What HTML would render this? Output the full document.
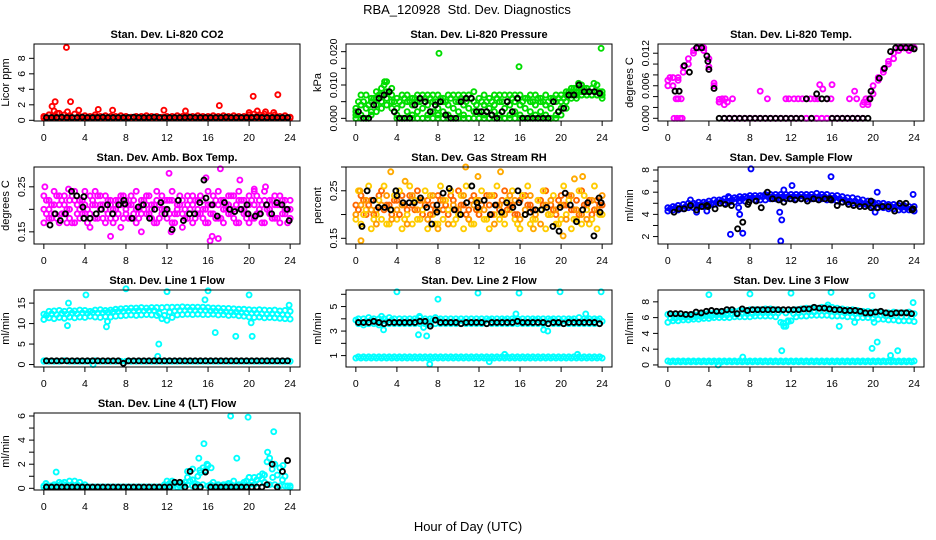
<!DOCTYPE html>
<html>
<head>
<meta charset="utf-8">
<style>
html,body{margin:0;padding:0;background:#fff;}
svg{display:block;}
text{font-family:"Liberation Sans",sans-serif;fill:#000;}
</style>
</head>
<body>
<svg id="chart" width="936" height="540" viewBox="0 0 936 540" xmlns="http://www.w3.org/2000/svg">
<text x="467" y="14" font-size="13" text-anchor="middle">RBA_120928&#160; Std. Dev. Diagnostics</text>
<text x="468" y="531" font-size="13" text-anchor="middle">Hour of Day (UTC)</text>
</svg>
<script>
// ---------- shared hour categories ----------
const H=[0,0.5,1,1.5,2,2.5,3,3.5,4,4.5,5,5.5,6,6.5,7,7.5,8,8.5,9,9.5,10,10.5,11,11.5,12,12.5,13,13.5,14,14.5,15,15.5,16,16.5,17,17.5,18,18.5,19,19.5,20,20.5,21,21.5,22,22.5,23,23.5,24];
const H2=[0.25,0.75,1.25,1.75,2.25,2.75,3.25,3.75,4.25,4.75,5.25,5.75,6.25,6.75,7.25,7.75,8.25,8.75,9.25,9.75,10.25,10.75,11.25,11.75,12.25,12.75,13.25,13.75,14.25,14.75,15.25,15.75,16.25,16.75,17.25,17.75,18.25,18.75,19.25,19.75,20.25,20.75,21.25,21.75,22.25,22.75,23.25,23.75];
const xTicks=[0,4,8,12,16,20,24];

// ---------- Panel 1: CO2 ----------
const co2Red1=[0.5,0.7,0.6,0.9,0.7,0.6,0.8,0.5,0.6,0.5,0.7,0.5,0.6,0.5,0.5,0.6,0.5,0.4,0.5,0.5,0.6,0.5,0.5,0.4,0.5,0.5,0.6,0.5,0.5,0.5,0.6,0.5,0.5,0.6,0.5,0.6,0.5,0.6,0.5,0.5,0.7,0.8,0.7,0.8,0.6,0.7,0.5,0.6,0.4];
const co2Red2=[0.3,0.3,0.4,0.3,0.3,0.4,0.3,0.3,0.3,0.3,0.4,0.3,0.3,0.3,0.3,0.3,0.3,0.3,0.3,0.3,0.3,0.3,0.3,0.3,0.3,0.3,0.3,0.3,0.3,0.3,0.3,0.3,0.3,0.3,0.3,0.3,0.3,0.3,0.3,0.3,0.4,0.4,0.4,0.4,0.3,0.4,0.3,0.3,0.3];
const co2OutX=[2.2,1.1,2.6,0.8,1.0,3.4,5.3,6.7,11.7,13.8,17.1,20.4,22.8,20.0,20.8,21.6,22.4,1.3,0.5,2.3];
const co2OutY=[9.4,2.4,2.4,1.8,1.2,1.3,1.4,1.3,1.3,1.2,1.9,3.1,3.3,1.0,1.2,1.1,1.0,0.9,0.7,1.1];
const co2Black=[0.35,0.35,0.35,0.4,0.35,0.35,0.35,0.4,0.35,0.35,0.35,0.4,0.35,0.35,0.35,0.35,0.35,0.4,0.35,0.35,0.35,0.4,0.35,0.35,0.35,0.35,0.35,0.35,0.4,0.35,0.35,0.35,0.35,0.35,0.35,0.4,0.35,0.35,0.35,0.35,0.35,0.4,0.35,0.35,0.35,0.35,0.35,0.35];

// ---------- Panel 2: Pressure ----------
const presG1=[0.003,0.007,0.007,0.006,0.008,0.009,0.011,0.009,0.006,0.007,0.007,0.006,0.007,0.007,0.007,0.007,0.007,0.006,0.007,0.007,0.007,0.007,0.007,0.008,0.006,0.007,0.006,0.007,0.007,0.007,0.007,0.007,0.007,0.006,0.007,0.007,0.006,0.007,0.006,0.007,0.007,0.008,0.009,0.009,0.010,0.009,0.009,0.010,0.008];
const presG2=[0.002,0.004,0.003,0.005,0.006,0.007,0.008,0.007,0.003,0.004,0.005,0.004,0.005,0.003,0.004,0.005,0.003,0.005,0.004,0.003,0.005,0.004,0.003,0.005,0.002,0.004,0.003,0.004,0.005,0.003,0.004,0.005,0.004,0.003,0.005,0.004,0.005,0.004,0.003,0.005,0.005,0.007,0.008,0.008,0.008,0.008,0.007,0.008,0.007];
const presG3=[0.001,0.001,0.000,0.002,0.004,0.005,0.006,0.005,0.001,0.000,0.002,0.001,0.002,0.000,0.001,0.002,0.001,0.002,0.001,0.000,0.002,0.001,0.000,0.002,0.000,0.001,0.000,0.002,0.001,0.000,0.001,0.002,0.001,0.000,0.002,0.001,0.002,0.001,0.000,0.001,0.003,0.005,0.007,0.007,0.007,0.007,0.007,0.007,0.007];
const presG4=[0,0,0,0.001,0.002,0.003,0.004,0.003,0,0,0,0,0,0,0,0,0,0,0,0,0,0,0,0,0,0,0,0,0,0,0,0,0,0,0,0,0,0,0,0,0.001,0.003,0.006,0.006,0.007,0.007,0.007,0.007,0.006];
const presG5=[0.005,0.005,0.004,0.006,0.007,0.010,0.008,0.005,0.005,0.006,0.005,0.006,0.005,0.006,0.006,0.005,0.006,0.005,0.006,0.005,0.006,0.005,0.006,0.004,0.005,0.005,0.005,0.006,0.005,0.005,0.006,0.006,0.005,0.006,0.005,0.006,0.005,0.005,0.006,0.006,0.006,0.008,0.009,0.009,0.009,0.008,0.008,0.008];
const presOutX=[8.1,15.9,23.9,21.7,23.2,2.8];
const presOutY=[0.0195,0.0155,0.021,0.0105,0.0105,0.011];
const presBlack=[0.002,0,0,0.004,0.006,0.007,0.008,0.002,0,0,0,0.004,0.006,0.005,0.002,0.004,0.005,0.001,0,0,0.005,0.006,0.006,0.002,0.002,0.002,0.001,0,0.002,0.005,0.002,0.006,0,0,0,0,0,0,0.005,0.002,0.003,0.007,0.007,0.010,0.008,0.008,0.008,0.0075];

// ---------- Panel 3: Li-820 Temp ----------
const tempM1=[0.007,0.0075,0.007,0.0085,0.010,0.012,0.013,0.013,0.0095,0.006,0.0035,0,0,0,0,0,0,0,0,0,0,0,0,0,0,0,0,0,0,0,0,0,0,0,0,0,0,0,0,0.003,0.006,0.0075,0.009,0.0105,0.012,0.013,0.013,0.013,0.013];
const tempM2=[0.006,0.006,0.0075,0.0095,0.011,0.0125,0.013,0.0125,0.011,0.0065,0.003,0.0025,0,0,0,0,0,0,0,0,0,0,0,0,0,0,0,0,0,0,0,0,0,0,0,0,0,0,0.0025,0.0025,0.0045,0.007,0.0085,0.010,0.011,0.0125,0.013,0.0125,0.013];
const tempOutX=[0.2,0.6,0.9,1.2,1.4,0.8,1.0,1.3,5.0,5.3,5.6,5.8,6.3,9.0,9.7,11.5,11.8,12.3,12.7,13.1,13.5,13.9,14.3,14.6,14.8,15.1,15.5,15.9,16.0,17.7,18.2,18.4,19.1,19.3,19.6];
const tempOutY=[0.0075,0,0,0,0,0.0036,0.0036,0.0036,0.003,0.0036,0.0036,0.003,0.0036,0.005,0.0036,0.0036,0.0036,0.0036,0.0036,0.0036,0.0036,0.0036,0.0036,0.0036,0.0062,0.0054,0.0036,0.0036,0.0062,0.0036,0.005,0.0036,0.003,0.0036,0.0036];
const tempBlackX=[0.7,1.1,1.6,2.1,2.8,3.3,3.8,3.9,4.0,4.5,5.0,5.5,6.0,6.5,7.0,7.5,8.0,8.5,9.0,9.5,10.0,10.5,11.0,11.5,12.0,12.5,13.0,13.5,14.0,14.5,15.0,15.5,16.0,16.5,17.0,17.5,18.0,18.5,19.0,19.5,19.7,19.8,20.6,21.1,21.7,22.2,22.7,23.2,23.7,24.0];
const tempBlackY=[0.005,0.005,0.0097,0.0085,0.013,0.013,0.0115,0.0105,0.009,0.0055,0,0,0,0,0,0,0,0,0,0,0,0,0,0,0,0,0,0.0036,0,0.0045,0.0036,0.0036,0,0,0,0,0,0,0,0,0.0036,0.005,0.0074,0.0092,0.0123,0.013,0.013,0.013,0.013,0.0128];

// ---------- Panel 4: Amb Box Temp ----------
const amb1=[0.20,0.22,0.19,0.23,0.21,0.18,0.22,0.20,0.24,0.19,0.21,0.23,0.20,0.18,0.22,0.21,0.19,0.23,0.20,0.22,0.19,0.21,0.24,0.20,0.18,0.22,0.21,0.19,0.23,0.21,0.20,0.22,0.24,0.19,0.21,0.20,0.23,0.18,0.22,0.20,0.21,0.24,0.19,0.22,0.20,0.23,0.21,0.19,0.22];
const amb2=[0.17,0.18,0.21,0.17,0.19,0.22,0.17,0.18,0.19,0.16,0.18,0.20,0.17,0.21,0.18,0.16,0.20,0.18,0.17,0.19,0.21,0.18,0.17,0.19,0.20,0.17,0.19,0.16,0.18,0.17,0.19,0.18,0.17,0.21,0.18,0.17,0.19,0.20,0.17,0.19,0.17,0.18,0.20,0.17,0.19,0.18,0.17,0.20,0.18];
const amb3=[0.23,0.20,0.24,0.21,0.23,0.20,0.24,0.22,0.21,0.23,0.24,0.21,0.23,0.22,0.20,0.23,0.22,0.21,0.24,0.21,0.23,0.20,0.22,0.23,0.22,0.24,0.20,0.22,0.21,0.23,0.22,0.20,0.21,0.23,0.24,0.22,0.21,0.23,0.24,0.22,0.23,0.21,0.22,0.24,0.22,0.21,0.23,0.22,0.20];
const amb4=[0.19,0.21,0.18,0.22,0.20,0.17,0.21,0.19,0.20,0.22,0.18,0.21,0.19,0.20,0.22,0.18,0.21,0.19,0.20,0.22,0.19,0.21,0.18,0.20,0.22,0.19,0.21,0.18,0.20,0.22,0.19,0.20,0.21,0.18,0.22,0.20,0.19,0.21,0.20,0.18,0.22,0.19,0.21,0.20,0.18,0.21,0.19,0.20];
const amb5=[0.22,0.18,0.23,0.19,0.17,0.23,0.19,0.22,0.17,0.21,0.23,0.18,0.22,0.17,0.19,0.23,0.18,0.22,0.18,0.20,0.23,0.17,0.21,0.22,0.19,0.17,0.23,0.20,0.22,0.18,0.23,0.17,0.19,0.22,0.18,0.21,0.23,0.17,0.22,0.19,0.18,0.23,0.17,0.21,0.22,0.18,0.22,0.17];
const ambOutX=[0.1,12.2,15.8,17.2,19.1,16.2,16.4,17.0,6.5,12.4,9.5,2.4,20.5,21.6];
const ambOutY=[0.25,0.28,0.27,0.29,0.265,0.13,0.14,0.135,0.14,0.15,0.15,0.245,0.245,0.25];
const ambBlackX=[0.6,1.1,1.6,2.1,2.7,3.2,3.8,3.9,3.9,4.5,5.1,5.6,6.2,6.7,7.3,7.8,7.9,8.6,9.2,9.7,10.3,10.8,11.4,11.8,12.0,12.5,13.1,13.6,14.2,14.7,15.2,15.8,15.6,16.4,16.9,17.6,18.1,18.6,19.2,19.8,19.9,20.6,21.1,21.7,22.2,22.7,23.2,23.7,23.9];
const ambBlackY=[0.165,0.19,0.175,0.19,0.24,0.23,0.205,0.228,0.18,0.18,0.19,0.20,0.21,0.19,0.21,0.22,0.212,0.18,0.205,0.21,0.18,0.20,0.215,0.19,0.20,0.155,0.22,0.175,0.19,0.19,0.215,0.225,0.265,0.21,0.185,0.215,0.20,0.195,0.20,0.21,0.19,0.185,0.19,0.21,0.19,0.215,0.21,0.20,0.175];

// ---------- Panel 5: Gas Stream RH ----------
const rh1=[0.22,0.24,0.20,0.23,0.21,0.25,0.22,0.20,0.23,0.24,0.21,0.22,0.25,0.20,0.23,0.22,0.24,0.21,0.20,0.23,0.25,0.22,0.21,0.24,0.20,0.23,0.22,0.24,0.21,0.25,0.22,0.20,0.23,0.24,0.22,0.21,0.23,0.25,0.22,0.20,0.24,0.22,0.21,0.23,0.25,0.22,0.20,0.23,0.22];
const rh2=[0.19,0.18,0.21,0.17,0.20,0.19,0.18,0.21,0.19,0.17,0.20,0.18,0.19,0.21,0.17,0.20,0.18,0.19,0.21,0.18,0.20,0.17,0.19,0.18,0.21,0.19,0.17,0.20,0.19,0.18,0.21,0.19,0.17,0.20,0.18,0.19,0.21,0.17,0.20,0.18,0.19,0.20,0.17,0.19,0.18,0.21,0.19,0.17,0.20];
const rh3=[0.21,0.23,0.22,0.20,0.24,0.21,0.22,0.23,0.20,0.22,0.24,0.21,0.23,0.22,0.20,0.21,0.23,0.22,0.24,0.21,0.22,0.20,0.23,0.21,0.22,0.24,0.20,0.22,0.23,0.21,0.22,0.20,0.24,0.22,0.21,0.23,0.22,0.20,0.21,0.23,0.22,0.24,0.21,0.20,0.22,0.23,0.21,0.22];
const rh4=[0.25,0.20,0.26,0.19,0.23,0.26,0.18,0.24,0.25,0.19,0.26,0.23,0.19,0.25,0.24,0.18,0.26,0.23,0.25,0.19,0.24,0.26,0.18,0.23,0.25,0.19,0.24,0.26,0.20,0.23,0.25,0.18,0.24,0.26,0.19,0.23,0.25,0.20,0.24,0.18,0.26,0.23,0.19,0.25,0.24,0.18,0.26,0.20];
const rh5=[0.20,0.22,0.23,0.21,0.18,0.22,0.24,0.19,0.21,0.22,0.18,0.24,0.21,0.23,0.19,0.24,0.21,0.23,0.18,0.22,0.21,0.24,0.19,0.22,0.23,0.21,0.24,0.18,0.22,0.20,0.24,0.23,0.19,0.21,0.24,0.20,0.18,0.22,0.23,0.21,0.22,0.19,0.24,0.21,0.20,0.19,0.23,0.21,0.24];
const rhOutX=[0.5,3.4,10.7,14.1,11.9,0.4,20.2,22.1,21.3,4.8,8.0,17.3];
const rhOutY=[0.145,0.29,0.30,0.29,0.28,0.25,0.155,0.28,0.275,0.27,0.17,0.17];
const rhBlackX=[0.6,1.1,1.7,2.2,2.8,3.4,3.9,4.0,4.6,5.2,5.7,6.3,6.9,7.4,7.9,7.9,8.5,9.1,9.6,10.2,10.8,11.3,11.8,11.9,12.5,13.1,13.6,14.2,14.7,15.3,15.8,15.9,16.5,17.0,17.5,18.1,18.6,19.2,19.8,19.9,20.4,20.9,21.5,22.1,22.6,23.2,23.7,23.8,23.9];
const rhBlackY=[0.175,0.25,0.23,0.215,0.215,0.21,0.25,0.24,0.225,0.225,0.225,0.235,0.215,0.18,0.205,0.22,0.245,0.255,0.21,0.20,0.225,0.26,0.225,0.215,0.23,0.20,0.22,0.205,0.225,0.215,0.25,0.225,0.20,0.205,0.21,0.21,0.215,0.175,0.165,0.215,0.245,0.22,0.185,0.21,0.225,0.155,0.235,0.205,0.225];

// ---------- Panel 6: Sample Flow ----------
const sf1=[4.6,4.7,4.8,4.9,5.0,5.0,5.1,5.1,5.2,5.3,5.3,5.4,5.5,5.5,5.6,5.6,5.7,5.7,5.7,5.8,5.8,5.8,5.8,5.8,5.8,5.8,5.8,5.8,5.8,5.9,5.8,5.8,5.7,5.7,5.6,5.5,5.5,5.4,5.3,5.2,5.1,5.0,5.0,4.9,4.9,4.8,4.8,4.7,4.7];
const sf2=[4.3,4.4,4.4,4.5,4.6,4.6,4.7,4.7,4.8,4.9,5.0,5.0,5.1,5.1,5.2,5.2,5.3,5.3,5.3,5.3,5.4,5.4,5.4,5.4,5.4,5.4,5.4,5.4,5.4,5.4,5.4,5.3,5.3,5.2,5.1,5.1,5.0,4.9,4.9,4.8,4.7,4.6,4.6,4.5,4.5,4.4,4.4,4.4,4.3];
const sf3=[4.5,4.6,4.6,4.7,4.8,4.9,4.9,5.0,5.0,5.1,5.2,5.2,5.3,5.4,5.4,5.5,5.5,5.5,5.6,5.6,5.6,5.6,5.6,5.6,5.6,5.6,5.6,5.6,5.6,5.6,5.6,5.5,5.5,5.4,5.3,5.2,5.2,5.1,5.0,5.0,4.9,4.8,4.8,4.7,4.7,4.6,4.6,4.5];
const sfOutX=[2.2,2.8,3.8,5.9,6.1,6.9,7.0,7.3,8.1,10.9,11.1,11.0,11.3,12.1,15.9,20.2,20.4,23.9];
const sfOutY=[5.3,4.2,4.3,5.6,2.2,4.6,4.0,2.3,8.1,4.2,3.5,1.6,6.2,6.6,7.4,4.2,6.0,5.8];
const sfBlackX=[0.6,1.1,1.6,2.2,2.8,3.3,3.8,3.9,4.6,5.1,5.6,6.2,6.8,7.3,7.8,7.9,8.6,9.1,9.7,10.2,10.8,11.3,11.9,12.4,13.0,13.6,14.2,14.7,15.3,15.8,15.9,16.5,17.0,17.6,18.1,18.7,19.2,19.8,19.8,20.4,20.9,21.5,22.1,22.6,23.2,23.8,23.9];
const sfBlackY=[4.2,4.5,4.5,4.8,4.4,4.7,4.8,4.7,4.5,5.0,4.9,4.8,2.7,3.3,4.9,5.1,5.2,4.6,6.0,5.4,5.3,5.1,5.4,5.3,5.4,5.2,5.4,5.3,5.4,5.4,5.3,4.8,5.1,4.9,4.8,4.7,4.7,5.2,4.6,4.6,4.7,4.7,4.3,5.0,5.0,4.4,4.5];

// ---------- Panel 7: Line 1 Flow ----------
const l1a=[12.3,13.0,13.1,13.2,13.0,13.2,13.1,13.3,13.2,13.0,13.3,13.4,13.2,13.3,13.5,13.6,13.7,13.8,13.8,13.9,13.8,13.9,13.9,13.9,14.0,14.0,14.0,14.1,14.0,14.0,14.0,14.0,13.9,13.8,13.8,13.7,13.7,13.6,13.5,13.5,13.4,13.3,13.4,13.3,13.2,13.3,13.1,13.2,13.0];
const l1b=[11.0,11.4,11.2,11.5,11.3,11.6,11.4,11.6,11.5,11.8,11.6,11.5,11.7,11.6,11.8,11.9,12.0,12.1,12.0,12.1,12.2,12.1,12.0,11.2,10.8,11.5,12.1,12.2,12.3,12.2,12.3,12.2,12.2,12.3,12.1,12.2,12.0,12.1,11.9,11.8,11.6,11.5,11.6,11.4,11.5,11.4,11.3,11.2,11.1];
const l1c=[12.0,12.4,12.2,12.5,12.3,12.6,12.4,12.6,12.5,12.7,12.6,12.7,12.8,12.9,13.0,13.0,13.1,13.1,13.2,13.1,13.2,13.2,12.5,12.0,12.8,13.1,13.2,13.2,13.3,13.2,13.2,13.2,13.1,13.1,13.0,12.9,12.8,12.8,12.7,12.6,12.5,12.5,12.4,12.3,12.4,12.3,12.2,12.1];
const l1Low=[0.9,0.8,0.8,0.8,0.9,0.8,0.8,0.8,0.8,0.8,0.9,0.8,0.8,0.8,0.8,0.8,0.8,0.8,0.8,0.8,0.8,0.8,0.8,0.8,0.8,0.8,0.8,0.8,0.8,0.8,0.8,0.8,0.8,0.8,0.8,0.8,0.8,0.8,0.8,0.8,0.8,0.8,0.8,0.8,0.8,0.8,0.8,0.8,0.8];
const l1OutX=[0.0,2.3,2.4,4.1,6.1,6.2,8.0,11.2,11.1,12.0,15.7,16.0,16.7,18.7,20.0,20.2,20.3,23.9,4.8];
const l1OutY=[0.8,9.5,15,17,9.2,10.5,18.5,5,2,17.8,15.8,18,7.8,6.9,17,10.2,6.9,14.5,0];
const l1Black=[0.9,0.9,0.9,0.9,0.9,0.9,0.9,0.9,0.9,0.9,0.9,0.9,0.9,0.9,0.9,0.3,0.9,0.9,0.9,0.9,0.9,0.9,0.9,0.9,0.9,0.9,0.9,0.9,0.9,0.9,0.9,0.9,0.9,0.9,0.9,0.9,0.9,0.9,0.9,0.9,0.9,0.9,0.9,0.9,0.9,0.9,0.9,0.9];

// ---------- Panel 8: Line 2 Flow ----------
const l2a=[3.9,3.7,3.8,3.9,3.7,3.8,3.8,3.9,3.7,3.8,3.8,3.8,3.9,3.8,3.8,3.9,3.9,3.8,3.8,3.8,3.8,3.8,3.8,3.8,3.8,3.8,3.9,3.8,3.8,3.9,3.8,3.9,3.8,3.8,3.8,3.9,3.8,3.8,3.9,3.8,3.8,3.8,3.9,3.8,3.8,3.9,3.8,3.9,3.8];
const l2b=[3.6,3.5,3.6,3.6,3.5,3.6,3.6,3.6,3.6,3.6,3.6,3.6,3.6,3.6,3.6,3.6,3.6,3.6,3.6,3.6,3.6,3.6,3.6,3.6,3.6,3.6,3.6,3.6,3.6,3.6,3.6,3.6,3.6,3.6,3.6,3.6,3.6,3.6,3.6,3.6,3.6,3.6,3.6,3.6,3.6,3.6,3.6,3.6];
const l2c=[4.0,4.0,4.1,4.0,4.0,4.0,4.1,4.0,4.0,4.0,4.0,4.0,4.1,4.0,4.0,4.1,4.0,4.0,4.0,4.0,4.0,4.0,4.0,4.0,4.0,4.0,4.0,4.0,4.0,4.0,4.0,4.0,4.0,4.0,4.0,4.0,4.0,4.0,4.0,4.0,4.0,4.0,4.0,4.1,4.0,4.0,4.0,4.0];
const l2Low=[0.8,0.8,0.8,0.8,0.8,0.8,0.8,0.8,0.8,0.8,0.8,0.8,0.8,0.8,0.8,0.8,0.8,0.8,0.8,0.8,0.8,0.8,0.8,0.8,0.8,0.8,0.8,0.8,0.8,0.8,0.8,0.8,0.8,0.8,0.8,0.8,0.8,0.8,0.8,0.8,0.8,0.8,0.8,0.8,0.8,0.8,0.8,0.8,0.8];
const l2Low2=[0.9,0.9,0.9,0.9,0.9,0.9,0.9,0.9,0.9,0.9,0.9,0.9,0.9,0.9,0.9,0.9,0.9,0.9,0.9,0.9,0.9,0.9,0.9,0.9,0.9,0.9,0.9,0.9,0.9,0.9,0.9,0.9,0.9,0.9,0.9,0.9,0.9,0.9,0.9,0.9,0.9,0.9,0.9,0.9,0.9,0.9,0.9,0.9];
const l2OutX=[4.0,8.0,11.9,15.9,19.9,23.9,2.5,2.7,6.1,6.2,6.6,6.9,7.2,13.0,14.5,15.6,18.3,18.7,21.6,22.4];
const l2OutY=[6.2,5.6,6.1,6.1,6.2,6.2,4.2,3.1,2.7,4.2,3.3,2.6,0.3,0.5,1.1,4.4,3.1,3.0,1.1,4.4];
const l2Black=[3.7,3.7,3.7,3.8,3.7,3.6,3.7,3.7,3.7,3.7,3.7,3.7,3.8,3.8,3.4,3.9,3.7,3.7,3.7,3.7,3.6,3.7,3.7,3.7,3.7,3.6,3.7,3.7,3.7,3.7,3.7,3.8,3.7,3.7,3.7,3.7,3.7,3.6,3.7,3.7,3.6,3.7,3.7,3.7,3.7,3.7,3.7,3.6];

// ---------- Panel 9: Line 3 Flow ----------
const l3a=[6.4,6.3,6.3,6.2,6.3,6.4,6.4,6.5,6.6,6.6,6.7,6.7,6.8,6.8,6.9,6.9,7.0,7.0,7.0,7.1,7.1,7.0,6.9,6.6,6.9,7.0,7.1,7.2,7.2,7.2,7.3,7.3,7.3,7.2,7.1,7.0,7.0,6.9,6.8,6.8,6.7,6.7,6.6,6.6,6.7,6.6,6.6,6.7,6.5];
const l3b=[5.4,5.6,5.6,5.7,5.7,5.8,5.8,5.9,5.9,6.0,6.0,6.0,6.0,6.1,6.1,6.1,6.1,6.2,6.2,6.2,6.2,6.1,5.4,4.9,5.6,6.1,6.2,6.2,6.3,6.3,6.3,6.3,6.2,6.2,6.2,6.1,6.1,6.0,6.0,6.0,5.9,5.8,5.8,5.7,5.7,5.6,5.6,5.6,5.5];
const l3c=[5.9,5.9,6.0,6.0,6.0,6.1,6.1,6.2,6.2,6.3,6.3,6.3,6.4,6.4,6.5,6.5,6.5,6.6,6.6,6.6,6.6,6.6,5.3,5.5,6.5,6.6,6.7,6.7,6.7,6.8,6.8,6.8,6.7,6.7,6.6,6.6,6.5,6.5,6.4,6.4,6.3,6.3,6.2,6.2,6.2,6.1,6.1,6.1];
const l3Low=[0.5,0.5,0.5,0.5,0.5,0.5,0.5,0.5,0.5,0.5,0.5,0.5,0.5,0.5,0.5,0.5,0.5,0.5,0.5,0.5,0.5,0.5,0.5,0.5,0.5,0.5,0.5,0.5,0.5,0.5,0.5,0.5,0.5,0.5,0.5,0.5,0.5,0.5,0.5,0.5,0.5,0.5,0.5,0.5,0.5,0.5,0.5,0.5,0.5];
const l3Low2=[0.4,0.4,0.4,0.4,0.4,0.4,0.4,0.4,0.4,0.4,0.4,0.4,0.4,0.4,0.4,0.4,0.4,0.4,0.4,0.4,0.4,0.4,0.4,0.4,0.4,0.4,0.4,0.4,0.4,0.4,0.4,0.4,0.4,0.4,0.4,0.4,0.4,0.4,0.4,0.4,0.4,0.4,0.4,0.4,0.4,0.4,0.4,0.4];
const l3OutX=[4.0,8.0,12.0,15.9,19.9,23.9,11.3,11.1,16.7,18.2,19.9,20.1,20.4,21.7,22.4,7.3,4.9,15.6,11.7];
const l3OutY=[8.9,9.0,9.1,9.2,8.8,7.9,4.9,1.8,4.9,5.4,2.1,5.4,2.9,1.2,1.8,1.0,0,7.6,5.6];
const l3Black=[6.5,6.5,6.5,6.4,6.4,6.7,6.6,6.8,6.9,6.8,6.8,7.0,7.0,6.5,7.1,6.9,7.0,7.0,7.0,7.0,7.0,7.0,7.0,7.0,7.0,7.0,7.1,7.1,7.3,7.2,7.2,7.1,7.0,7.0,6.9,6.9,6.9,6.8,6.6,6.6,6.7,6.8,6.6,6.5,6.6,6.6,6.6,6.5];

// ---------- Panel 10: Line 4 (LT) Flow ----------
const l4a=[0.2,0.2,0.3,0.5,0.5,0.6,0.6,0.5,0.3,0.1,0.1,0.1,0.1,0.1,0.1,0.1,0.1,0.1,0.1,0.1,0.1,0.1,0.1,0.1,0.6,0.6,0.4,0.4,0.9,0.7,1.0,1.7,1.9,0.5,0.3,0.3,0.4,0.6,0.3,0.5,0.9,0.9,1.0,1.1,2.5,2.0,1.7,1.0,0.2];
const l4b=[0.2,0.2,0.3,0.4,0.3,0.3,0.3,0.2,0.1,0.1,0.1,0.1,0.1,0.1,0.1,0.1,0.1,0.1,0.1,0.1,0.1,0.1,0.1,0.3,0.4,0.3,0.2,0.5,0.6,0.4,1.3,1.5,0.3,0.2,0.2,0.3,0.3,0.2,0.3,0.6,0.5,0.7,0.8,2.2,1.6,1.1,0.7,0.2];
const l4c=[0.1,0.1,0.1,0.1,0.1,0.1,0.1,0.1,0.1,0.1,0.1,0.1,0.1,0.1,0.1,0.1,0.1,0.1,0.1,0.1,0.1,0.1,0.1,0.1,0.2,0.2,0.1,0.2,0.3,0.2,0.3,0.3,0.2,0.2,0.1,0.2,0.2,0.1,0.2,0.2,0.3,0.3,0.4,0.5,0.3,0.3,0.2,0.2,0.1];
const l4OutX=[0.2,1.2,14.0,14.5,15.1,15.6,15.9,16.3,18.2,18.8,19.9,22.4,21.8,15.2,22.3,23.3,20.0,21.3];
const l4OutY=[0.4,1.35,1.4,1.6,2.5,3.7,2.0,1.7,6.0,2.5,5.9,4.7,3.0,1.5,0.9,1.9,0.9,1.2];
const l4Black=[0.1,0.1,0.1,0.1,0.1,0.1,0.1,0.1,0.1,0.1,0.1,0.1,0.1,0.1,0.1,0.1,0.1,0.1,0.1,0.1,0.1,0.1,0.1,0.1,0.1,0.5,0.5,0.1,1.4,0.1,0.1,1.35,0.1,0.1,0.1,0.1,0.1,0.1,0.1,0.1,0.1,0.1,0.1,0.3,2.0,0.1,1.4,2.3];

// ---------- drawing ----------
const NS="http://www.w3.org/2000/svg";
const svg=document.getElementById('chart');
function mk(tag,attrs,parent){const e=document.createElementNS(NS,tag);for(const k in attrs)e.setAttribute(k,attrs[k]);(parent||svg).appendChild(e);return e;}

const panels=[
 {title:"Stan. Dev. Li-820 CO2",ylab:"Licor ppm",dom:[-0.09,9.85],ticks:[0,2,4,6,8],labels:["0","2","4","6","8"],
  series:[{x:H,y:co2Red1,c:"#ff0000"},{x:H,y:co2Red2,c:"#ff0000"},{x:co2OutX,y:co2OutY,c:"#ff0000"},{x:H2,y:co2Black,c:"#000"}]},
 {title:"Stan. Dev. Li-820 Pressure",ylab:"kPa",dom:[-0.0008,0.0223],ticks:[0,0.005,0.01,0.015,0.02],labels:["0.000","","0.010","","0.020"],
  series:[{x:H,y:presG1,c:"#00dd00"},{x:H,y:presG2,c:"#00dd00"},{x:H,y:presG3,c:"#00dd00"},{x:H,y:presG4,c:"#00dd00"},{x:H2,y:presG5,c:"#00dd00"},{x:presOutX,y:presOutY,c:"#00dd00"},{x:H2,y:presBlack,c:"#000"}]},
 {title:"Stan. Dev. Li-820 Temp.",ylab:"degrees C",dom:[-0.0005,0.0137],ticks:[0,0.002,0.004,0.006,0.008,0.01,0.012],labels:["0.000","","","0.006","","","0.012"],
  series:[{x:H,y:tempM1,c:"#ff00ff"},{x:H,y:tempM2,c:"#ff00ff"},{x:tempOutX,y:tempOutY,c:"#ff00ff"},{x:tempBlackX,y:tempBlackY,c:"#000"}]},
 {title:"Stan. Dev. Amb. Box Temp.",ylab:"degrees C",dom:[0.123,0.294],ticks:[0.15,0.2,0.25],labels:["0.15","","0.25"],
  series:[{x:H,y:amb1,c:"#ff00ff"},{x:H,y:amb2,c:"#ff00ff"},{x:H,y:amb3,c:"#ff00ff"},{x:H2,y:amb4,c:"#ff00ff"},{x:H2,y:amb5,c:"#ff00ff"},{x:ambOutX,y:ambOutY,c:"#ff00ff"},{x:ambBlackX,y:ambBlackY,c:"#000"}]},
 {title:"Stan. Dev. Gas Stream RH",ylab:"percent",dom:[0.138,0.3],ticks:[0.15,0.2,0.25,0.3],labels:["0.15","","0.25",""],
  series:[{x:H,y:rh1,c:"#ff6600"},{x:H,y:rh2,c:"#ffcc00"},{x:H2,y:rh3,c:"#ff6600"},{x:H2,y:rh4,c:"#ffcc00"},{x:H,y:rh5,c:"#ff9900"},{x:rhOutX,y:rhOutY,c:"#ffaa00"},{x:rhBlackX,y:rhBlackY,c:"#000"}]},
 {title:"Stan. Dev. Sample Flow",ylab:"ml/min",dom:[1.33,8.27],ticks:[2,3,4,5,6,7,8],labels:["2","","4","","6","","8"],
  series:[{x:H,y:sf1,c:"#0000ff"},{x:H,y:sf2,c:"#0000ff"},{x:H2,y:sf3,c:"#0000ff"},{x:sfOutX,y:sfOutY,c:"#0000ff"},{x:sfBlackX,y:sfBlackY,c:"#000"}]},
 {title:"Stan. Dev. Line 1 Flow",ylab:"ml/min",dom:[-0.6,18.2],ticks:[0,5,10,15],labels:["0","5","10","15"],
  series:[{x:H,y:l1a,c:"#00ffff"},{x:H,y:l1b,c:"#00ffff"},{x:H2,y:l1c,c:"#00ffff"},{x:H,y:l1Low,c:"#00ffff"},{x:l1OutX,y:l1OutY,c:"#00ffff"},{x:H2,y:l1Black,c:"#000"}]},
 {title:"Stan. Dev. Line 2 Flow",ylab:"ml/min",dom:[0.07,6.35],ticks:[1,2,3,4,5,6],labels:["1","","3","","5",""],
  series:[{x:H,y:l2a,c:"#00ffff"},{x:H2,y:l2b,c:"#00ffff"},{x:H2,y:l2c,c:"#00ffff"},{x:H,y:l2Low,c:"#00ffff"},{x:H2,y:l2Low2,c:"#00ffff"},{x:l2OutX,y:l2OutY,c:"#00ffff"},{x:H2,y:l2Black,c:"#000"}]},
 {title:"Stan. Dev. Line 3 Flow",ylab:"ml/min",dom:[-0.26,9.5],ticks:[0,2,4,6,8],labels:["0","2","4","6","8"],
  series:[{x:H,y:l3a,c:"#00ffff"},{x:H,y:l3b,c:"#00ffff"},{x:H2,y:l3c,c:"#00ffff"},{x:H,y:l3Low,c:"#00ffff"},{x:H2,y:l3Low2,c:"#00ffff"},{x:l3OutX,y:l3OutY,c:"#00ffff"},{x:H2,y:l3Black,c:"#000"}]},
 {title:"Stan. Dev. Line 4 (LT) Flow",ylab:"ml/min",dom:[-0.14,6.25],ticks:[0,1,2,3,4,5,6],labels:["0","","2","","4","","6"],
  series:[{x:H,y:l4a,c:"#00ffff"},{x:H2,y:l4b,c:"#00ffff"},{x:H,y:l4c,c:"#00ffff"},{x:l4OutX,y:l4OutY,c:"#00ffff"},{x:H2,y:l4Black,c:"#000"}]}
];

panels.forEach((p,i)=>{
  const col=i%3,row=Math.floor(i/3);
  const L=col*312+34,R=L+266,T=44+row*123,B=T+77;
  const g=mk('g',{});
  
  
  const xs=v=>L+(v+0.96)*266/25.92;
  const ys=v=>B-(v-p.dom[0])/(p.dom[1]-p.dom[0])*77;
  const t=mk('text',{x:(L+R)/2,y:T-6,'font-size':11,'font-weight':'bold','text-anchor':'middle'},g);
  t.textContent=p.title;
  
  
  const yl=mk('text',{x:0,y:0,'font-size':11,'text-anchor':'middle',transform:`translate(${L-25},${(T+B)/2}) rotate(-90)`},g);
  yl.textContent=p.ylab;
  
  
  const xa=mk('g',{},g);
  
  
  mk('line',{x1:xs(0),x2:xs(24),y1:B,y2:B,stroke:'#000','stroke-width':1},xa);
  xTicks.forEach(v=>{
    mk('line',{x1:xs(v),x2:xs(v),y1:B,y2:B+5,stroke:'#000','stroke-width':1},xa);
    const tl=mk('text',{x:xs(v),y:B+20,'font-size':10.5,'text-anchor':'middle'},xa);
    tl.textContent=v;
    
    
  });
  const ya=mk('g',{},g);
  
  
  p.ticks.forEach((v,k)=>{
    mk('line',{x1:L-5,x2:L,y1:ys(v),y2:ys(v),stroke:'#000','stroke-width':1},ya);
    if(p.labels[k]){
      const tl=mk('text',{x:0,y:0,'font-size':10.5,'text-anchor':'middle',transform:`translate(${L-9},${ys(v)}) rotate(-90)`},ya);
      tl.textContent=p.labels[k];
      
      
    }
  });
  p.series.forEach((s,si)=>{
    const sg=mk('g',{fill:'none',stroke:s.c,'stroke-width':1.9},g);
    
    
    s.y.forEach((v,k)=>{
      const c=mk('circle',{cx:xs(s.x[k]),cy:ys(v),r:2.5},sg);
      
      
    });
  });
  const box=mk('rect',{x:L,y:T,width:R-L,height:B-T,fill:'none',stroke:'#000','stroke-width':1},g);
  
  
});
</script>
</body>
</html>
